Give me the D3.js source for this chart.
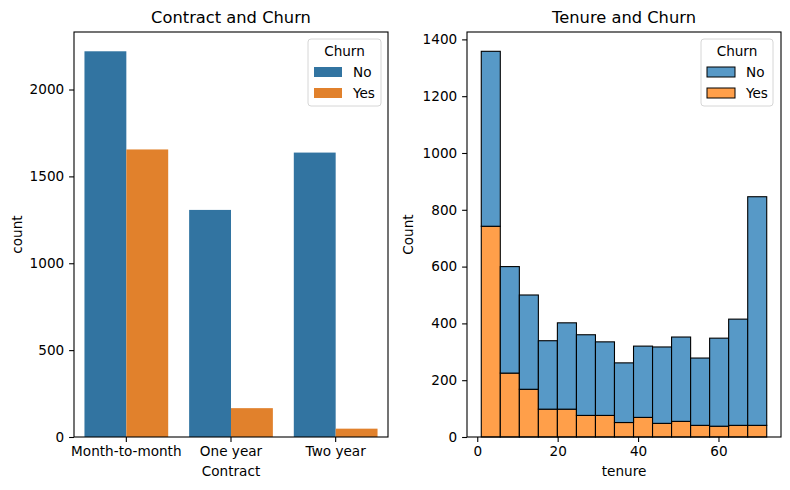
<!DOCTYPE html>
<html>
<head>
<meta charset="utf-8">
<script src="https://cdn.jsdelivr.net/npm/d3@7"></script>
<style>
  body { margin: 0; background: #fff; }
  svg text { font-family: "DejaVu Sans", sans-serif; fill: #000; }
</style>
</head>
<body>
<div id="chart"></div>
<script>
// left panel: countplot of contract type by churn
const contracts = ["Month-to-month", "One year", "Two year"];
const churnKeys = ["No", "Yes"];
const contractNo = [2220, 1307, 1637];
const contractYes = [1655, 166, 48];
const leftTicks = [0, 500, 1000, 1500, 2000];

// right panel: stacked histogram of tenure by churn
const binEdges = [1, 5.73, 10.47, 15.2, 19.93, 24.67, 29.4, 34.13, 38.87, 43.6, 48.33, 53.07, 57.8, 62.53, 67.27, 72];
const tenureYes = [742, 225, 168, 98, 98, 76, 76, 51, 69, 48, 55, 41, 38, 41, 41];
const tenureNo = [616, 375, 332, 241, 304, 284, 259, 210, 251, 269, 297, 237, 310, 374, 805];
const rightXTicks = [0, 20, 40, 60];
const rightYTicks = [0, 200, 400, 600, 800, 1000, 1200, 1400];

const width = 790, height = 490;
const fs = 13.6, titleFs = 16.3;
const tick = 4.9;

const svg = d3.select("#chart").append("svg").attr("width", width).attr("height", height);

function frame(g, x0, x1, y0, y1) {
    g.append("rect").attr("x", x0).attr("y", y0).attr("width", x1 - x0).attr("height", y1 - y0)
        .attr("fill", "none").attr("stroke", "#000").attr("stroke-width", 1.1);
}

function legend(g, x0, x1, y0, colors, edged) {
    g.append("rect").attr("x", x0).attr("y", y0).attr("width", x1 - x0).attr("height", 67)
        .attr("rx", 3).attr("fill", "#fff").attr("fill-opacity", 0.8).attr("stroke", "#d6d6d6").attr("stroke-width", 1);
    g.append("text").attr("x", (x0 + x1) / 2).attr("y", y0 + 12).attr("dy", "0.35em")
        .attr("text-anchor", "middle").attr("font-size", fs).text("Churn");
    churnKeys.forEach((k, i) => {
        g.append("rect").attr("x", x0 + 6).attr("y", y0 + 28 + i * 21).attr("width", 28).attr("height", 10)
            .attr("fill", colors[i]).attr("stroke", edged ? "#000" : "none").attr("stroke-width", 1);
        g.append("text").attr("x", x0 + 45).attr("y", y0 + 33 + i * 21).attr("dy", "0.35em")
            .attr("font-size", fs).text(k);
    });
}

function styleAxis(g) {
    g.select(".domain").remove();
    g.selectAll(".tick line").attr("stroke", "#000").attr("stroke-width", 1.1);
    g.selectAll(".tick text").attr("font-size", fs).attr("font-family", "DejaVu Sans, sans-serif");
}

// ---- left panel ----
{
    const L = 74, R = 388, T = 32, B = 437;
    const g = svg.append("g");
    const x = d3.scaleBand().domain(contracts).range([L, R]).paddingInner(0.2).paddingOuter(0.1);
    const xHue = d3.scaleBand().domain(churnKeys).range([0, x.bandwidth()]);
    const y = d3.scaleLinear().domain([0, 2331]).range([B, T]);
    const colors = ["#3274a1", "#e1812c"];

    const rows = contracts.map((c, i) => ({ contract: c, values: [contractNo[i], contractYes[i]] }));
    rows.forEach(r => {
        r.values.forEach((v, j) => {
            g.append("rect").attr("x", x(r.contract) + xHue(churnKeys[j])).attr("y", y(v))
                .attr("width", xHue.bandwidth()).attr("height", B - y(v)).attr("fill", colors[j]);
        });
    });

    const xa = g.append("g").attr("transform", `translate(0,${B})`)
        .call(d3.axisBottom(x).tickSize(tick).tickPadding(tick));
    styleAxis(xa);
    const ya = g.append("g").attr("transform", `translate(${L},0)`)
        .call(d3.axisLeft(y).tickValues(leftTicks).tickFormat(d3.format("d")).tickSize(tick).tickPadding(tick));
    styleAxis(ya);

    frame(g, L, R, T, B);

    g.append("text").attr("x", (L + R) / 2).attr("y", 23).attr("text-anchor", "middle")
        .attr("font-size", titleFs).text("Contract and Churn");
    g.append("text").attr("x", (L + R) / 2).attr("y", 471.7).attr("dy", "0.35em").attr("text-anchor", "middle")
        .attr("font-size", fs).text("Contract");
    g.append("text").attr("transform", `translate(17,${(T + B) / 2}) rotate(-90)`).attr("dy", "0.35em")
        .attr("text-anchor", "middle").attr("font-size", fs).text("count");

    legend(g, 308, 381, 39, colors, false);
}

// ---- right panel ----
{
    const L = 467, R = 781, T = 32, B = 437;
    const g = svg.append("g");
    const x = d3.scaleLinear().domain([-2.55, 75.55]).range([L, R]);
    const y = d3.scaleLinear().domain([0, 1426]).range([B, T]);
    const colors = ["#5799c7", "#ff9f4a"];

    const bins = tenureYes.map((v, i) => ({ x0: binEdges[i], x1: binEdges[i + 1], Yes: v, No: tenureNo[i] }));
    const stacked = d3.stack().keys(["Yes", "No"])(bins);
    const colorOf = { No: colors[0], Yes: colors[1] };

    stacked.forEach(layer => {
        g.append("g").selectAll("rect").data(layer).enter().append("rect")
            .attr("x", d => x(d.data.x0)).attr("width", d => x(d.data.x1) - x(d.data.x0))
            .attr("y", d => y(d[1])).attr("height", d => y(d[0]) - y(d[1]))
            .attr("fill", colorOf[layer.key]).attr("stroke", "#000").attr("stroke-width", 1.1);
    });

    const xa = g.append("g").attr("transform", `translate(0,${B})`)
        .call(d3.axisBottom(x).tickValues(rightXTicks).tickFormat(d3.format("d")).tickSize(tick).tickPadding(tick));
    styleAxis(xa);
    const ya = g.append("g").attr("transform", `translate(${L},0)`)
        .call(d3.axisLeft(y).tickValues(rightYTicks).tickFormat(d3.format("d")).tickSize(tick).tickPadding(tick));
    styleAxis(ya);

    frame(g, L, R, T, B);

    g.append("text").attr("x", (L + R) / 2).attr("y", 23).attr("text-anchor", "middle")
        .attr("font-size", titleFs).text("Tenure and Churn");
    g.append("text").attr("x", (L + R) / 2).attr("y", 471.7).attr("dy", "0.35em").attr("text-anchor", "middle")
        .attr("font-size", fs).text("tenure");
    g.append("text").attr("transform", `translate(408.5,${(T + B) / 2}) rotate(-90)`).attr("dy", "0.35em")
        .attr("text-anchor", "middle").attr("font-size", fs).text("Count");

    legend(g, 701, 773, 39, colors, true);
}
</script>
</body>
</html>
